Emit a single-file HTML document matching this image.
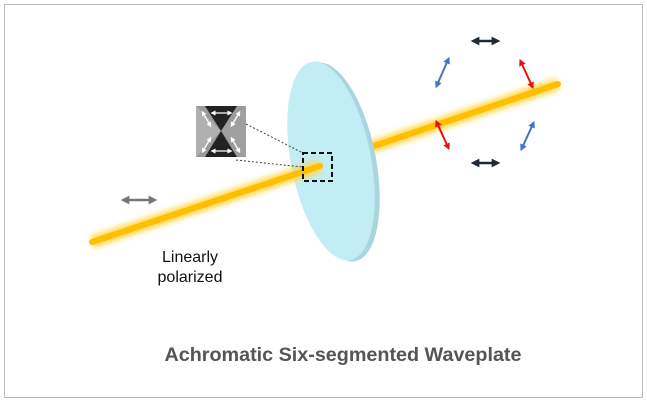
<!DOCTYPE html>
<html><head><style>body{margin:0;background:#fff}</style></head><body>
<svg width="647" height="403" viewBox="0 0 647 403" xmlns="http://www.w3.org/2000/svg" style="display:block">
<defs>
<filter id="g" x="-20%" y="-200%" width="140%" height="500%"><feGaussianBlur stdDeviation="3"/></filter>
<marker id="ak" viewBox="0 0 10 10" refX="5" refY="5" markerWidth="3.5" markerHeight="3.5" orient="auto-start-reverse"><path d="M0,0L10,5L0,10z" fill="#222a33"/></marker>
<marker id="ab" viewBox="0 0 10 10" refX="5" refY="5" markerWidth="3.5" markerHeight="3.5" orient="auto-start-reverse"><path d="M0,0L10,5L0,10z" fill="#4472c4"/></marker>
<marker id="ar" viewBox="0 0 10 10" refX="5" refY="5" markerWidth="3.5" markerHeight="3.5" orient="auto-start-reverse"><path d="M0,0L10,5L0,10z" fill="#e81010"/></marker>
<marker id="ag" viewBox="0 0 10 10" refX="5" refY="5" markerWidth="3.5" markerHeight="3.5" orient="auto-start-reverse"><path d="M0,0L10,5L0,10z" fill="#777"/></marker>
<marker id="aw" viewBox="0 0 10 10" refX="5" refY="5" markerWidth="4" markerHeight="4" orient="auto-start-reverse"><path d="M0,0L10,5L0,10z" fill="#fff"/></marker>
</defs>
<rect x="4.5" y="4.5" width="638" height="393" fill="#fff" stroke="#bbb"/>
<line x1="365" y1="149" x2="558" y2="84" stroke="#ffd84a" stroke-width="12" filter="url(#g)"/>
<line x1="365" y1="149" x2="558" y2="84" stroke="#ffbf00" stroke-width="6" stroke-linecap="round"/>
<ellipse cx="336" cy="162" rx="40" ry="101" transform="rotate(-11 336 162)" fill="#a9d6de"/>
<ellipse cx="331" cy="161" rx="40" ry="101" transform="rotate(-11 331 161)" fill="#c2edf4"/>
<line x1="92" y1="242" x2="320" y2="166" stroke="#ffd84a" stroke-width="12" filter="url(#g)"/>
<line x1="92" y1="242" x2="320" y2="166" stroke="#ffbf00" stroke-width="6" stroke-linecap="round"/>
<rect x="303" y="153" width="29" height="28" fill="none" stroke="#111" stroke-width="2" stroke-dasharray="5,3"/>
<line x1="246" y1="124" x2="303" y2="153" stroke="#444" stroke-dasharray="2,2"/>
<line x1="236" y1="160" x2="303" y2="167" stroke="#444" stroke-dasharray="2,2"/>
<g>
<rect x="196" y="106" width="50" height="51" fill="#9a9a9a"/>
<polygon points="196,106 221,131 196,157" fill="#b0b0b0"/>
<polygon points="246,106 221,131 246,157" fill="#a0a0a0"/>
<polygon points="205,106 237,106 221,131" fill="#222"/>
<polygon points="205,157 237,157 221,131" fill="#222"/>
<line x1="213" y1="113" x2="230" y2="113" stroke="#fff" stroke-width="1.3" marker-start="url(#aw)" marker-end="url(#aw)"/>
<line x1="213" y1="151" x2="230" y2="151" stroke="#fff" stroke-width="1.3" marker-start="url(#aw)" marker-end="url(#aw)"/>
<line x1="203" y1="113" x2="210" y2="125" stroke="#fff" stroke-width="1.3" marker-start="url(#aw)" marker-end="url(#aw)"/>
<line x1="232" y1="125" x2="239" y2="113" stroke="#fff" stroke-width="1.3" marker-start="url(#aw)" marker-end="url(#aw)"/>
<line x1="203" y1="151" x2="210" y2="139" stroke="#fff" stroke-width="1.3" marker-start="url(#aw)" marker-end="url(#aw)"/>
<line x1="232" y1="139" x2="239" y2="151" stroke="#fff" stroke-width="1.3" marker-start="url(#aw)" marker-end="url(#aw)"/>
</g>
<line x1="125" y1="200" x2="153" y2="200" stroke="#777" stroke-width="2.5" marker-start="url(#ag)" marker-end="url(#ag)"/>
<line x1="475" y1="41" x2="496" y2="41" stroke="#222a33" stroke-width="2.5" marker-start="url(#ak)" marker-end="url(#ak)"/>
<line x1="475" y1="163" x2="496" y2="163" stroke="#222a33" stroke-width="2.5" marker-start="url(#ak)" marker-end="url(#ak)"/>
<line x1="437" y1="85" x2="448" y2="60" stroke="#4472c4" stroke-width="2" marker-start="url(#ab)" marker-end="url(#ab)"/>
<line x1="522" y1="148" x2="533" y2="124" stroke="#4472c4" stroke-width="2" marker-start="url(#ab)" marker-end="url(#ab)"/>
<line x1="521" y1="62" x2="532" y2="86" stroke="#e81010" stroke-width="2" marker-start="url(#ar)" marker-end="url(#ar)"/>
<line x1="437" y1="123" x2="448" y2="147" stroke="#e81010" stroke-width="2" marker-start="url(#ar)" marker-end="url(#ar)"/>
<text x="190" y="262" font-family="Liberation Sans, sans-serif" font-size="16" text-anchor="middle" fill="#111">Linearly</text>
<text x="190" y="282" font-family="Liberation Sans, sans-serif" font-size="16" text-anchor="middle" fill="#111">polarized</text>
<text x="343" y="361" font-family="Liberation Sans, sans-serif" font-size="19.5" font-weight="bold" text-anchor="middle" fill="#555" textLength="357" lengthAdjust="spacingAndGlyphs">Achromatic Six-segmented Waveplate</text>
</svg>
</body></html>
